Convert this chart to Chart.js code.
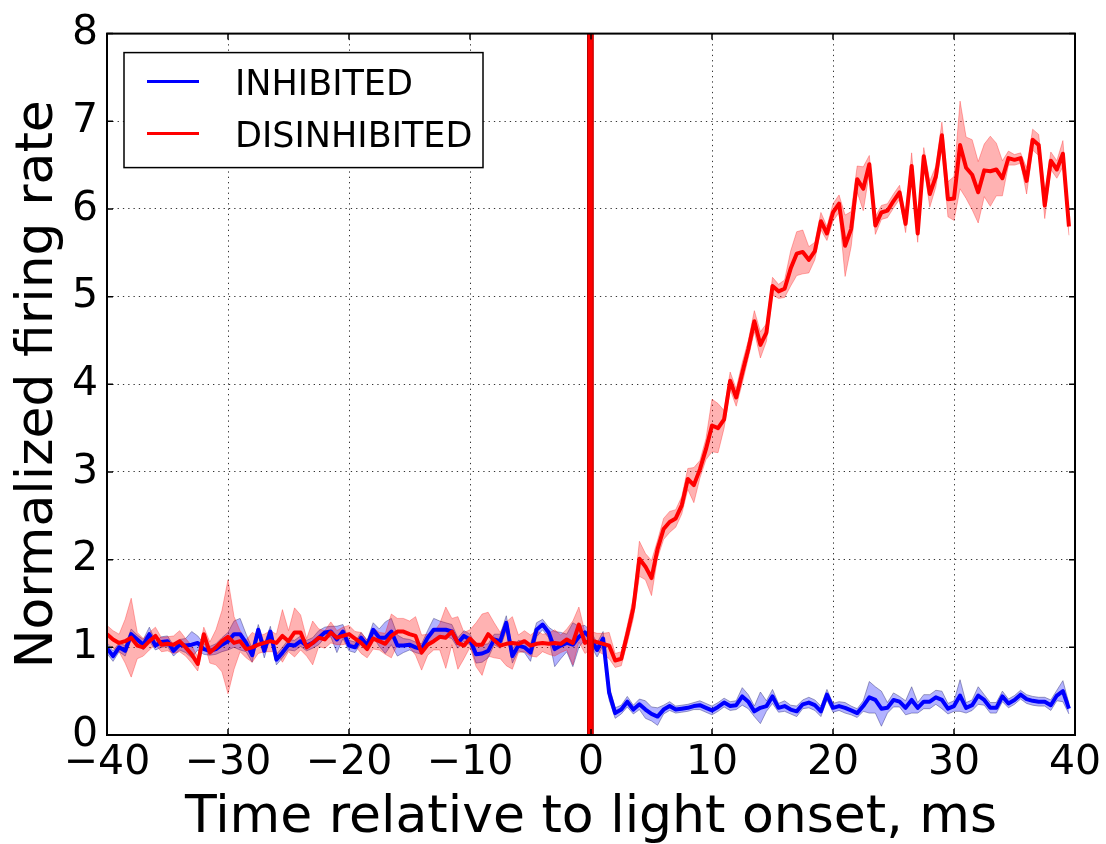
<!DOCTYPE html>
<html>
<head>
<meta charset="utf-8">
<script src="https://cdn.jsdelivr.net/npm/chart.js@4/dist/chart.umd.min.js"></script>
<style>
  html, body { margin: 0; padding: 0; background: #fff; }
  #wrap { width: 1106px; height: 844px; }
</style>
</head>
<body>
<div id="wrap"><canvas id="psth" width="1106" height="844"></canvas></div>
<script>
// time bins: 0.5 ms, from -40 ms
const binStart = -40;
const binWidth = 0.5;

// mean firing rate, INHIBITED cells (160 bins)
const inhibitedMean = [
  0.99, 0.90, 1.00, 0.96, 1.15, 1.09, 1.03, 1.15, 1.02, 1.06,
  1.07, 0.96, 1.03, 1.02, 1.03, 1.05, 0.98, 0.96, 0.98, 1.03,
  1.07, 1.15, 1.15, 1.05, 0.91, 1.20, 0.96, 1.18, 0.86, 0.94,
  1.03, 1.02, 1.07, 1.02, 1.05, 1.11, 1.17, 1.18, 1.09, 1.18,
  1.02, 1.00, 1.11, 1.02, 1.20, 1.11, 1.11, 1.18, 1.02, 1.02,
  1.03, 1.00, 0.98, 1.11, 1.20, 1.20, 1.20, 1.18, 1.05, 1.13,
  1.09, 0.92, 0.93, 0.96, 1.09, 1.07, 1.28, 0.90, 1.02, 1.00,
  0.94, 1.20, 1.26, 1.17, 0.98, 1.02, 1.05, 1.03, 1.12, 1.17,
  1.10, 0.97, 1.10, 0.48, 0.25, 0.29, 0.38, 0.29, 0.35, 0.29,
  0.24, 0.21, 0.29, 0.33, 0.29, 0.30, 0.31, 0.33, 0.34, 0.31,
  0.28, 0.32, 0.37, 0.33, 0.34, 0.44, 0.38, 0.27, 0.31, 0.33,
  0.44, 0.31, 0.33, 0.29, 0.27, 0.35, 0.37, 0.34, 0.27, 0.46,
  0.31, 0.33, 0.31, 0.28, 0.25, 0.33, 0.43, 0.40, 0.30, 0.31,
  0.40, 0.38, 0.31, 0.40, 0.31, 0.38, 0.38, 0.43, 0.40, 0.30,
  0.33, 0.45, 0.31, 0.34, 0.45, 0.40, 0.31, 0.31, 0.44, 0.36,
  0.40, 0.46, 0.41, 0.39, 0.38, 0.38, 0.34, 0.45, 0.50, 0.30
];
const inhibitedErr = [
  0.06, 0.06, 0.05, 0.06, 0.06, 0.05, 0.06, 0.08, 0.05, 0.06,
  0.06, 0.06, 0.06, 0.08, 0.15, 0.08, 0.06, 0.05, 0.06, 0.08,
  0.10, 0.15, 0.18, 0.10, 0.08, 0.06, 0.08, 0.06, 0.06, 0.06,
  0.06, 0.06, 0.06, 0.06, 0.06, 0.08, 0.06, 0.06, 0.15, 0.08,
  0.06, 0.06, 0.06, 0.06, 0.08, 0.10, 0.18, 0.15, 0.12, 0.08,
  0.06, 0.06, 0.06, 0.08, 0.13, 0.10, 0.08, 0.08, 0.06, 0.06,
  0.06, 0.10, 0.10, 0.08, 0.06, 0.08, 0.08, 0.08, 0.06, 0.06,
  0.10, 0.08, 0.06, 0.06, 0.20, 0.15, 0.10, 0.25, 0.12, 0.08,
  0.08, 0.08, 0.08, 0.08, 0.06, 0.05, 0.06, 0.05, 0.06, 0.10,
  0.08, 0.10, 0.05, 0.05, 0.04, 0.04, 0.04, 0.04, 0.05, 0.05,
  0.05, 0.05, 0.05, 0.05, 0.05, 0.10, 0.08, 0.06, 0.18, 0.06,
  0.08, 0.05, 0.06, 0.05, 0.06, 0.05, 0.06, 0.06, 0.06, 0.06,
  0.05, 0.05, 0.06, 0.05, 0.05, 0.06, 0.18, 0.15, 0.20, 0.06,
  0.08, 0.06, 0.08, 0.15, 0.06, 0.08, 0.08, 0.08, 0.10, 0.06,
  0.06, 0.18, 0.06, 0.06, 0.10, 0.06, 0.06, 0.06, 0.06, 0.05,
  0.05, 0.05, 0.05, 0.05, 0.05, 0.05, 0.06, 0.06, 0.12, 0.06
];

// mean firing rate, DISINHIBITED cells (160 bins)
const disinhibitedMean = [
  1.15, 1.09, 1.05, 1.07, 1.11, 1.02, 1.00, 1.07, 1.13, 1.03,
  1.04, 1.03, 1.07, 1.00, 0.92, 0.81, 1.15, 0.94, 1.00, 1.07,
  1.12, 1.05, 1.07, 0.98, 1.00, 1.03, 1.05, 1.07, 1.05, 1.13,
  1.07, 1.17, 1.17, 1.00, 1.05, 1.11, 1.09, 1.17, 1.11, 1.13,
  1.15, 1.10, 1.05, 0.98, 1.10, 1.07, 1.04, 1.13, 1.18, 1.18,
  1.15, 1.13, 0.94, 1.03, 1.07, 1.12, 1.11, 1.18, 1.05, 1.02,
  1.10, 1.03, 1.03, 1.15, 1.08, 1.02, 1.04, 1.05, 1.04, 1.07,
  1.02, 1.04, 1.05, 1.04, 1.05, 1.04, 1.09, 1.05, 1.26, 1.05,
  1.08, 1.06, 1.04, 1.02, 0.85, 0.87, 1.15, 1.45, 2.01, 1.92,
  1.79, 2.12, 2.35, 2.43, 2.47, 2.62, 2.92, 2.85, 3.03, 3.26,
  3.53, 3.50, 3.60, 4.04, 3.85, 4.13, 4.40, 4.72, 4.45, 4.59,
  5.12, 5.06, 5.09, 5.32, 5.49, 5.51, 5.42, 5.52, 5.86, 5.72,
  5.96, 6.06, 5.58, 5.77, 6.34, 6.23, 6.51, 5.81, 5.96, 5.98,
  6.09, 6.19, 5.83, 6.49, 5.72, 6.60, 6.17, 6.37, 6.84, 6.11,
  6.12, 6.73, 6.47, 6.39, 6.19, 6.44, 6.43, 6.45, 6.35, 6.58,
  6.56, 6.58, 6.32, 6.79, 6.73, 6.04, 6.55, 6.45, 6.63, 5.80
];
const disinhibitedErr = [
  0.10, 0.10, 0.10, 0.25, 0.45, 0.15, 0.10, 0.10, 0.10, 0.08,
  0.08, 0.10, 0.12, 0.10, 0.10, 0.08, 0.08, 0.12, 0.20, 0.35,
  0.65, 0.30, 0.12, 0.10, 0.17, 0.10, 0.10, 0.12, 0.10, 0.30,
  0.12, 0.28, 0.20, 0.10, 0.25, 0.10, 0.10, 0.12, 0.08, 0.10,
  0.10, 0.08, 0.12, 0.10, 0.12, 0.10, 0.12, 0.25, 0.15, 0.15,
  0.15, 0.22, 0.20, 0.12, 0.10, 0.15, 0.35, 0.15, 0.30, 0.15,
  0.10, 0.25, 0.35, 0.25, 0.20, 0.15, 0.25, 0.30, 0.10, 0.12,
  0.12, 0.15, 0.10, 0.12, 0.15, 0.10, 0.12, 0.25, 0.20, 0.12,
  0.10, 0.10, 0.12, 0.15, 0.08, 0.08, 0.10, 0.12, 0.20, 0.15,
  0.20, 0.10, 0.12, 0.12, 0.10, 0.10, 0.12, 0.20, 0.10, 0.12,
  0.30, 0.28, 0.10, 0.10, 0.10, 0.12, 0.10, 0.12, 0.15, 0.10,
  0.10, 0.08, 0.10, 0.20, 0.25, 0.25, 0.15, 0.10, 0.10, 0.08,
  0.10, 0.10, 0.35, 0.20, 0.15, 0.25, 0.10, 0.10, 0.08, 0.08,
  0.08, 0.08, 0.10, 0.15, 0.10, 0.10, 0.15, 0.12, 0.15, 0.20,
  0.25, 0.50, 0.35, 0.40, 0.35, 0.30, 0.40, 0.30, 0.20, 0.08,
  0.06, 0.06, 0.15, 0.12, 0.12, 0.15, 0.10, 0.10, 0.15, 0.10
];

// light onset marker (ms)
const lightOnset = [-0.33, 0.22];

const xTickValues = [-40, -30, -20, -10, 0, 10, 20, 30, 40];
const xTickLabels = ['\u221240', '\u221230', '\u221220', '\u221210', '0', '10', '20', '30', '40'];
const yTickValues = [0, 1, 2, 3, 4, 5, 6, 7, 8];
const yTickLabels = ['0', '1', '2', '3', '4', '5', '6', '7', '8'];

const FONT = "'DejaVu Sans', 'Bitstream Vera Sans', sans-serif";
Chart.defaults.font.family = FONT;
Chart.defaults.color = '#000';

function toPoints(mean, offset) {
    return mean.map((m, i) => ({ x: binStart + i * binWidth, y: m + offset[i] }));
}
const zeros = new Array(inhibitedMean.length).fill(0);
const negate = arr => arr.map(v => -v);

// stimulus stripe, drawn over the data (grid is drawn on top of it afterwards)
const onsetPlugin = {
    id: 'onset',
    afterDatasetsDraw(chart) {
        const { ctx, chartArea, scales } = chart;
        const x0 = scales.x.getPixelForValue(lightOnset[0]);
        const x1 = scales.x.getPixelForValue(lightOnset[1]);
        ctx.save();
        ctx.fillStyle = '#ff0000';
        ctx.fillRect(x0, chartArea.top, x1 - x0, chartArea.bottom - chartArea.top);
        ctx.strokeStyle = 'rgba(170,0,0,0.8)';
        ctx.lineWidth = 1;
        ctx.beginPath();
        ctx.moveTo(x0 + 0.5, chartArea.top); ctx.lineTo(x0 + 0.5, chartArea.bottom);
        ctx.moveTo(x1 - 0.5, chartArea.top); ctx.lineTo(x1 - 0.5, chartArea.bottom);
        ctx.stroke();
        ctx.restore();
    }
};

// matplotlib-like frame with inward ticks, plus the legend box
const framePlugin = {
    id: 'frame',
    afterDraw(chart) {
        const { ctx, chartArea, scales } = chart;
        const { left, right, top, bottom } = chartArea;
        ctx.save();
        ctx.strokeStyle = '#000';
        ctx.lineWidth = 1.5;
        ctx.beginPath();
        xTickValues.forEach(v => {
            const px = scales.x.getPixelForValue(v);
            ctx.moveTo(px, top); ctx.lineTo(px, top + 6);
            ctx.moveTo(px, bottom); ctx.lineTo(px, bottom - 6);
        });
        yTickValues.forEach(v => {
            const py = scales.y.getPixelForValue(v);
            ctx.moveTo(left, py); ctx.lineTo(left + 6, py);
            ctx.moveTo(right, py); ctx.lineTo(right - 6, py);
        });
        ctx.stroke();
        ctx.lineWidth = 2;
        ctx.strokeRect(left, top, right - left, bottom - top);

        // legend
        const bx = left + 17, by = top + 19, bw = 359, bh = 115;
        ctx.fillStyle = '#fff';
        ctx.fillRect(bx, by, bw, bh);
        ctx.lineWidth = 1.5;
        ctx.strokeRect(bx, by, bw, bh);
        const entries = chart.data.datasets.filter(d => d.inLegend);
        entries.forEach((d, i) => {
            const ly = by + 29 + i * 52;
            ctx.strokeStyle = d.borderColor;
            ctx.lineWidth = 3;
            ctx.beginPath();
            ctx.moveTo(bx + 23, ly); ctx.lineTo(bx + 75, ly);
            ctx.stroke();
            ctx.fillStyle = '#000';
            ctx.font = '35px ' + FONT;
            ctx.textBaseline = 'alphabetic';
            ctx.textAlign = 'left';
            ctx.fillText(d.label, bx + 111, ly + 13);
        });
        ctx.restore();
    }
};

const ctx = document.getElementById('psth').getContext('2d');
new Chart(ctx, {
    type: 'line',
    data: {
        datasets: [
            { label: 'inh upper', data: toPoints(inhibitedMean, inhibitedErr), fill: '+1',
              backgroundColor: 'rgba(0,0,255,0.3)', borderColor: 'rgba(50,50,110,0.45)', borderWidth: 1,
              pointRadius: 0, order: 5 },
            { label: 'inh lower', data: toPoints(inhibitedMean, negate(inhibitedErr)), fill: false,
              borderColor: 'rgba(50,50,110,0.45)', borderWidth: 1, pointRadius: 0, order: 5 },
            { label: 'dis upper', data: toPoints(disinhibitedMean, disinhibitedErr), fill: '+1',
              backgroundColor: 'rgba(255,0,0,0.3)', borderColor: 'rgba(255,0,0,0.3)', borderWidth: 1,
              pointRadius: 0, order: 3 },
            { label: 'dis lower', data: toPoints(disinhibitedMean, negate(disinhibitedErr)), fill: false,
              borderColor: 'rgba(255,0,0,0.3)', borderWidth: 1, pointRadius: 0, order: 3 },
            { label: 'INHIBITED', inLegend: true, data: toPoints(inhibitedMean, zeros), fill: false,
              borderColor: '#0000ff', borderWidth: 4, pointRadius: 0, order: 1 },
            { label: 'DISINHIBITED', inLegend: true, data: toPoints(disinhibitedMean, zeros), fill: false,
              borderColor: '#ff0000', borderWidth: 4, pointRadius: 0, order: 0 }
        ]
    },
    options: {
        responsive: false,
        animation: false,
        layout: { padding: { left: 0, right: 31, top: 30, bottom: 0 } },
        plugins: { legend: { display: false }, tooltip: { enabled: false } },
        elements: { line: { tension: 0, borderJoinStyle: 'round' } },
        scales: {
            x: {
                type: 'linear', min: -40, max: 40, z: 1,
                afterBuildTicks: s => { s.ticks = xTickValues.map(v => ({ value: v })); },
                afterFit: s => { s.height = 109; },
                ticks: {
                    padding: 4, maxRotation: 0, autoSkip: false,
                    font: { size: 41 },
                    callback: v => xTickLabels[xTickValues.indexOf(v)]
                },
                grid: { color: 'rgba(0,0,0,0.8)', lineWidth: 1, drawTicks: false },
                border: { display: false, dash: [1.3, 4] },
                title: { display: true, text: 'Time relative to light onset, ms',
                         font: { size: 52, lineHeight: 1.0 }, padding: { top: 0, bottom: 0 } }
            },
            y: {
                type: 'linear', min: 0, max: 8, z: 1,
                afterBuildTicks: s => { s.ticks = yTickValues.map(v => ({ value: v })); },
                afterFit: s => { s.width = 107; },
                ticks: {
                    padding: 9, font: { size: 41 },
                    callback: v => yTickLabels[yTickValues.indexOf(v)]
                },
                grid: { color: 'rgba(0,0,0,0.8)', lineWidth: 1, drawTicks: false },
                border: { display: false, dash: [1.3, 4] },
                title: { display: true, text: 'Normalized firing rate',
                         font: { size: 52, lineHeight: 1.0 }, padding: { top: 12, bottom: 0 } }
            }
        }
    },
    plugins: [onsetPlugin, framePlugin]
});
</script>
</body>
</html>
